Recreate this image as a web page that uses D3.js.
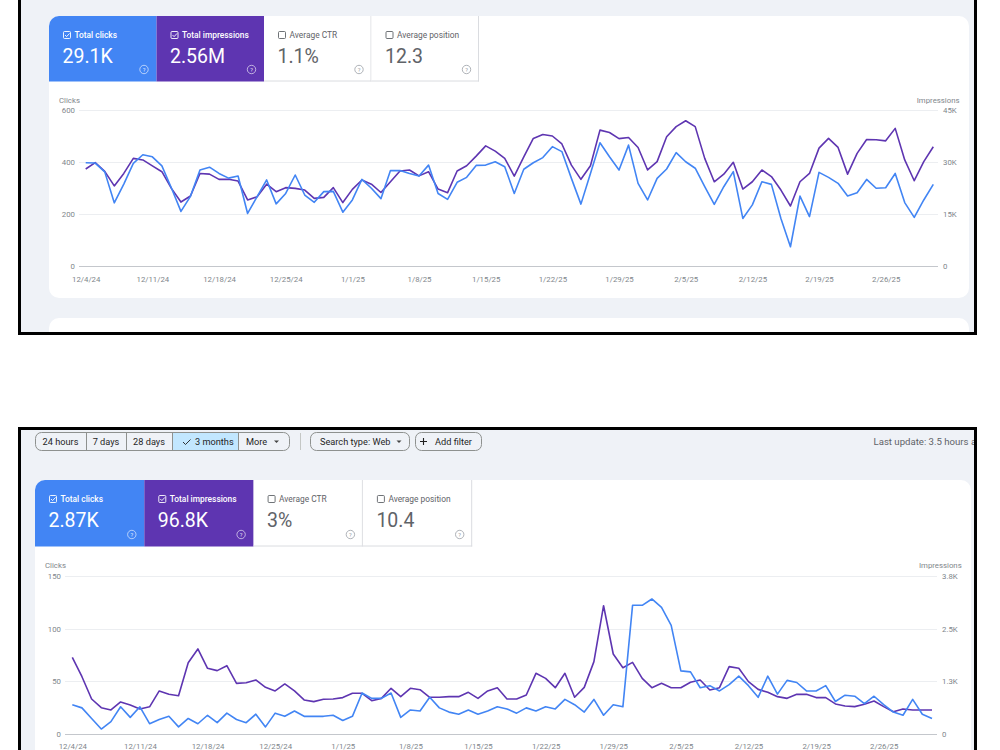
<!DOCTYPE html>
<html><head><meta charset="utf-8">
<script src="https://cdn.jsdelivr.net/npm/d3@7"></script>
<style>
body{margin:0;background:#fff;}
svg{display:block;font-family:Roboto,"Noto Sans",sans-serif;}
</style>
</head><body>
<svg id="c" width="1000" height="750"></svg>
<script>
// ---------------- DATA ----------------
const xTickLabels = ["12/4/24","12/11/24","12/18/24","12/25/24","1/1/25","1/8/25","1/15/25","1/22/25","1/29/25","2/5/25","2/12/25","2/19/25","2/26/25"];
const firstDay = "12/4/24";
const lastDay = "3/3/25";

const topMetricLabels = ["Total clicks","Total impressions","Average CTR","Average position"];
const topMetricValues = ["29.1K","2.56M","1.1%","12.3"];
const bottomMetricLabels = ["Total clicks","Total impressions","Average CTR","Average position"];
const bottomMetricValues = ["2.87K","96.8K","3%","10.4"];

const rangeChips = ["24 hours","7 days","28 days","3 months","More"];
const selectedChip = "3 months";
const filterChips = ["Search type: Web","Add filter"];
const lastUpdate = "Last update: 3.5 hours ago";

const topLeftTicks = [0,200,400,600];
const topRightTicks = [0,15000,30000,45000];
const topRightLabels = ["0","15K","30K","45K"];
const bottomLeftTicks = [0,50,100,150];
const bottomRightTicks = [0,1250,2500,3750];
const bottomRightLabels = ["0","1.3K","2.5K","3.8K"];

const topClicks = [397,396,362,243,315,395,428,420,385,300,
  210,268,369,380,356,338,346,202,267,331,
  239,279,350,273,245,286,287,207,254,333,
  299,259,367,367,356,346,388,279,256,322,
  341,387,388,401,382,279,372,397,417,459,
  440,337,238,356,474,420,369,465,318,254,
  337,373,436,401,376,305,237,305,363,183,
  235,324,314,183,74,269,190,360,341,318,
  269,282,333,299,301,356,244,187,254,314];
const topImpressions = [27975,29800,27300,23100,26700,31050,30600,28900,27200,22400,
  18450,20200,26700,26500,25000,25000,24500,19050,20000,23600,
  21450,22600,22400,21900,19500,19800,22600,18300,22100,24800,
  23600,21200,24300,27400,27700,26000,27200,22200,21150,27400,
  28900,31700,34650,33150,31050,25950,31500,36800,37950,37500,
  35200,29100,25000,28900,39200,38500,36750,37050,34200,27700,
  30100,37300,40200,41900,40200,31050,24300,26500,29900,22200,
  24300,27700,25800,21900,17300,24300,26700,34000,36800,34200,
  26500,32500,36500,36400,36100,39700,30600,24600,30100,34400];
const bottomClicks = [28,25,15,5,12,26,16,26,10,14,
  17,7,15,10,18,11,20,14,11,19,
  7,20,17,22,17,17,17,18,13,17,
  39,34,34,39,16,23,22,35,25,21,
  19,23,19,22,26,24,20,25,22,26,
  24,33,28,21,33,18,28,26,122,122,
  128,120,103,60,59,44,46,41,47,55,
  46,35,55,38,51,49,41,41,46,31,
  37,36,29,36,28,21,18,33,19,15];
const bottomImpressions = [1820,1362,835,630,575,765,692,600,650,1025,
  945,912,1692,2018,1560,1505,1622,1205,1220,1285,
  1110,1025,1190,1025,812,772,828,835,868,970,
  970,795,850,1088,890,1088,1055,875,875,890,
  890,992,850,1025,1102,835,835,930,1442,1322,
  1102,1442,875,1110,1718,3040,1898,1575,1700,1322,
  1102,1205,1102,1102,1230,1285,1048,1102,1600,1560,
  1245,1062,992,890,850,945,945,868,868,718,
  670,655,710,788,655,535,600,575,575,575];

// ---------------- STYLE CONSTANTS ----------------
const C = {
  bg:"#eff2f7", blue:"#4285f4", purple:"#5e35b1", text:"#5f6368",
  grid:"#eceef1", zero:"#c4c7cc", tick:"#80868b", border:"#dadce0"
};

const parse = d3.timeParse("%m/%d/%y");
const dates = d3.timeDay.range(parse(firstDay), d3.timeDay.offset(parse(lastDay),1));
const xTickDates = xTickLabels.map(parse);

const svg = d3.select("#c");
const defs = svg.append("defs");

// ---------- frames ----------
function frame(y0, y1, id){
  svg.append("rect").attr("x",18).attr("y",y0).attr("width",959).attr("height",y1-y0).attr("fill","#000");
  svg.append("rect").attr("x",21).attr("y",y0+3).attr("width",953).attr("height",y1-y0-6).attr("fill",C.bg);
  defs.append("clipPath").attr("id",id).append("rect").attr("x",21).attr("y",y0+3).attr("width",953).attr("height",y1-y0-6);
  return svg.append("g").attr("clip-path",`url(#${id})`);
}
const topG = frame(-10, 335, "clipTop");
const botG = frame(427, 770, "clipBot");

// ---------- cards ----------
function card(g, x, y, w, h){
  g.append("rect").attr("x",x).attr("y",y).attr("width",w).attr("height",h).attr("rx",10).attr("fill","#fff");
}
card(topG, 49, 16, 920, 282);
card(topG, 49, 318, 920, 60);
card(botG, 35, 480, 936, 300);

// ---------- metric tiles ----------
function tiles(g, x0, y0, w, h, labels, values){
  labels.forEach((lab,i)=>{
    const L = x0 + i*w, T = y0;
    const colored = i<2;
    const fill = i===0?C.blue:(i===1?C.purple:"#fff");
    if(i===0){
      const r=10;
      g.append("path").attr("d",`M${L},${T+h}V${T+r}A${r},${r} 0 0 1 ${L+r},${T}H${L+w}V${T+h}Z`).attr("fill",fill);
    } else {
      g.append("rect").attr("x",L).attr("y",T).attr("width",w).attr("height",h).attr("fill",fill);
    }
    if(!colored){
      g.append("line").attr("x1",L+w-0.5).attr("x2",L+w-0.5).attr("y1",T).attr("y2",T+h).attr("stroke",C.border);
      g.append("line").attr("x1",L).attr("x2",L+w).attr("y1",T+h-0.5).attr("y2",T+h-0.5).attr("stroke",C.border);
    }
    const fg = colored?"#fff":C.text;
    g.append("rect").attr("x",L+14.5).attr("y",T+15.5).attr("width",7).attr("height",7).attr("rx",1)
      .attr("fill","none").attr("stroke",fg).attr("stroke-width",0.9);
    if(colored){
      g.append("path").attr("d",`M${L+16},${T+19}l1.6,1.6l3,-3.2`).attr("fill","none").attr("stroke","#fff").attr("stroke-width",0.9);
    }
    g.append("text").attr("x",L+25.5).attr("y",T+22).attr("font-size",8.4).attr("fill",fg)
      .attr("font-weight",colored?500:400).text(lab);
    g.append("text").attr("x",L+13.5).attr("y",T+47).attr("font-size",19.5).attr("fill",fg).text(values[i]);
    const hx = L+w-12.5, hy = T+h-12;
    g.append("circle").attr("cx",hx).attr("cy",hy).attr("r",4.2).attr("fill","none")
      .attr("stroke",colored?"rgba(255,255,255,0.75)":"#9aa0a6").attr("stroke-width",0.8);
    g.append("text").attr("x",hx).attr("y",hy+2).attr("text-anchor","middle").attr("font-size",5.8)
      .attr("fill",colored?"rgba(255,255,255,0.85)":"#9aa0a6").text("?");
  });
}
tiles(topG, 49, 16, 107.5, 65.5, topMetricLabels, topMetricValues);
tiles(botG, 35, 480, 109.3, 66.5, bottomMetricLabels, bottomMetricValues);

// ---------- chips row ----------
(function(){
  const g = botG;
  const bounds = [35,86,126,172,238,290];
  const cy0 = 432, ch = 19, fs = 9.2;
  const si = rangeChips.indexOf(selectedChip);
  g.append("rect").attr("x",bounds[si]).attr("y",cy0).attr("width",bounds[si+1]-bounds[si]).attr("height",ch).attr("fill","#c2e7ff");
  g.append("rect").attr("x",35.5).attr("y",cy0+0.5).attr("width",254).attr("height",ch-1).attr("rx",6)
    .attr("fill","none").attr("stroke","#8e918f").attr("stroke-width",1);
  bounds.slice(1,-1).forEach(b=>{
    g.append("line").attr("x1",b+0.5).attr("x2",b+0.5).attr("y1",cy0).attr("y2",cy0+ch).attr("stroke","#8e918f");
  });
  rangeChips.forEach((t,i)=>{
    const cx = (bounds[i]+bounds[i+1])/2;
    if(t===selectedChip){
      g.append("path").attr("d",`M${bounds[i]+11},${cy0+10}l2.5,2.5l5,-5`).attr("fill","none").attr("stroke","#1f1f1f").attr("stroke-width",0.9);
      g.append("text").attr("x",bounds[i]+23).attr("y",cy0+12.9).attr("font-size",fs).attr("fill","#1f1f1f").text(t);
    } else if(t==="More"){
      g.append("text").attr("x",bounds[i]+8).attr("y",cy0+12.9).attr("font-size",fs).attr("fill","#1f1f1f").text(t);
      g.append("path").attr("d",`M${bounds[i]+36},${cy0+8.5}h5l-2.5,2.5z`).attr("fill","#444");
    } else {
      g.append("text").attr("x",cx).attr("y",cy0+12.9).attr("text-anchor","middle").attr("font-size",fs).attr("fill","#1f1f1f").text(t);
    }
  });
  g.append("line").attr("x1",300.5).attr("x2",300.5).attr("y1",cy0+1).attr("y2",cy0+ch-1).attr("stroke","#c4c7c5");
  g.append("rect").attr("x",310.5).attr("y",cy0+0.5).attr("width",99).attr("height",ch-1).attr("rx",6)
    .attr("fill","none").attr("stroke","#8e918f");
  g.append("text").attr("x",320).attr("y",cy0+12.9).attr("font-size",fs).attr("fill","#1f1f1f").text(filterChips[0]);
  g.append("path").attr("d",`M396.5,${cy0+8.5}h5l-2.5,2.5z`).attr("fill","#444");
  g.append("rect").attr("x",415.5).attr("y",cy0+0.5).attr("width",66).attr("height",ch-1).attr("rx",6)
    .attr("fill","none").attr("stroke","#8e918f");
  g.append("path").attr("d",`M420,${cy0+9.5}h7M423.5,${cy0+6}v7`).attr("stroke","#1f1f1f").attr("stroke-width",1.1);
  g.append("text").attr("x",435).attr("y",cy0+12.9).attr("font-size",fs).attr("fill","#1f1f1f").text(filterChips[1]);
  g.append("text").attr("x",873.5).attr("y",cy0+12.7).attr("font-size",9.6).attr("fill",C.text).text(lastUpdate);
})();

// ---------- charts ----------
function chart(g, cfg){
  const x = d3.scaleTime().domain([dates[0], dates[dates.length-1]]).range([cfg.x0, cfg.x1]);
  const yL = d3.scaleLinear().domain([0, cfg.leftTicks[cfg.leftTicks.length-1]]).range([cfg.yB, cfg.yT]);
  const yR = d3.scaleLinear().domain([0, cfg.rightTicks[cfg.rightTicks.length-1]]).range([cfg.yB, cfg.yT]);
  const fs = 7.8;

  g.append("g").selectAll("line").data(cfg.leftTicks).join("line")
    .attr("x1",cfg.gx0).attr("x2",cfg.gx1)
    .attr("y1",d=>Math.round(yL(d))+0.5).attr("y2",d=>Math.round(yL(d))+0.5)
    .attr("stroke",d=>d===0?C.zero:C.grid).attr("stroke-width",1);

  const la = g.append("g").attr("transform",`translate(${cfg.gx0-4},0)`)
    .call(d3.axisLeft(yL).tickValues(cfg.leftTicks).tickSize(0).tickPadding(0).tickFormat(d3.format("d")));
  la.select(".domain").remove();
  la.selectAll("text").attr("fill",C.tick).attr("font-size",fs).attr("font-family","Roboto,sans-serif");

  const ra = g.append("g").attr("transform",`translate(${cfg.gx1+5},0)`)
    .call(d3.axisRight(yR).tickValues(cfg.rightTicks).tickSize(0).tickPadding(0).tickFormat((d,i)=>cfg.rightLabels[i]));
  ra.select(".domain").remove();
  ra.selectAll("text").attr("fill",C.tick).attr("font-size",fs).attr("font-family","Roboto,sans-serif");

  const ba = g.append("g").attr("transform",`translate(0,${cfg.yB})`)
    .call(d3.axisBottom(x).tickValues(xTickDates).tickSize(0).tickPadding(cfg.xPad).tickFormat((d,i)=>xTickLabels[i]));
  ba.select(".domain").remove();
  ba.selectAll("text").attr("fill",C.tick).attr("font-size",fs).attr("font-family","Roboto,sans-serif");

  g.append("text").attr("x",cfg.titleLX).attr("y",cfg.titleY).attr("font-size",fs).attr("fill",C.tick).text("Clicks");
  g.append("text").attr("x",cfg.titleRX).attr("y",cfg.titleY).attr("text-anchor","end").attr("font-size",fs).attr("fill",C.tick).text("Impressions");

  const lineL = d3.line().x((d,i)=>x(dates[i])).y(d=>yL(d));
  const lineR = d3.line().x((d,i)=>x(dates[i])).y(d=>yR(d));
  g.append("path").datum(cfg.impressions).attr("d",lineR).attr("fill","none")
    .attr("stroke",C.purple).attr("stroke-width",1.6).attr("stroke-linejoin","round");
  g.append("path").datum(cfg.clicks).attr("d",lineL).attr("fill","none")
    .attr("stroke",C.blue).attr("stroke-width",1.6).attr("stroke-linejoin","round");
}

chart(topG, {
  x0:85.7, x1:933.3, gx0:79, gx1:938, yT:110, yB:266,
  leftTicks:topLeftTicks, rightTicks:topRightTicks, rightLabels:topRightLabels,
  clicks:topClicks, impressions:topImpressions, xPad:10,
  titleLX:59, titleRX:959.5, titleY:103
});
chart(botG, {
  x0:72.3, x1:932, gx0:65, gx1:937, yT:575.7, yB:734.3,
  leftTicks:bottomLeftTicks, rightTicks:bottomRightTicks, rightLabels:bottomRightLabels,
  clicks:bottomClicks, impressions:bottomImpressions, xPad:9.5,
  titleLX:45, titleRX:961.7, titleY:568
});
</script>
</body></html>
